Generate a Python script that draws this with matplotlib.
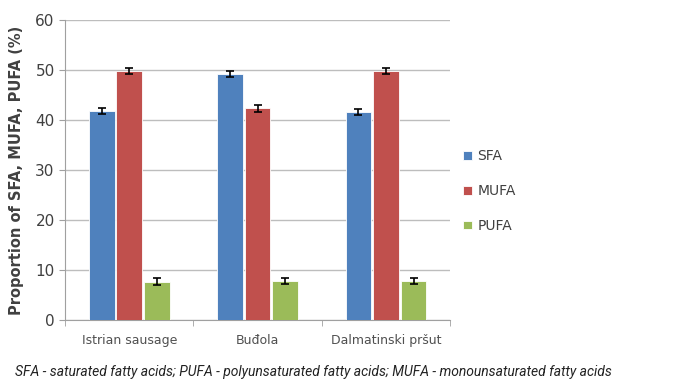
import numpy as np
import matplotlib
matplotlib.use("Agg")
import matplotlib.pyplot as plt

# Data
products = ["Istrian sausage", "Buđola", "Dalmatinski pršut"]
sfa = [41.7, 49.2, 41.6]
mufa = [49.7, 42.3, 49.7]
pufa = [7.7, 7.8, 7.9]
sfa_err = [0.6, 0.6, 0.6]
mufa_err = [0.6, 0.7, 0.6]
pufa_err = [0.7, 0.6, 0.6]
series_names = ["SFA", "MUFA", "PUFA"]
colors = ["#4F81BD", "#C0504D", "#9BBB59"]
caption = "SFA - saturated fatty acids; PUFA - polyunsaturated fatty acids; MUFA - monounsaturated fatty acids"

fig = plt.figure(figsize=(6.78, 3.9), dpi=100)
ax = fig.add_axes([0.096, 0.179, 0.568, 0.77])

x = np.arange(len(products))
width = 0.2
series = [(sfa, sfa_err), (mufa, mufa_err), (pufa, pufa_err)]
for i, (vals, errs) in enumerate(series):
    ax.bar(x + (i - 1) * 0.215, vals, width, yerr=errs, color=colors[i],
           edgecolor="white", linewidth=0.6, label=series_names[i],
           error_kw=dict(ecolor="black", elinewidth=1.2, capsize=3, capthick=1.2),
           zorder=3)

ax.set_xlim(-0.5, 2.5)
ax.set_ylim(0, 60)
ax.set_yticks(range(0, 61, 10))
ax.yaxis.grid(True, color="#BDBDBD", linewidth=1, zorder=0)
ax.set_axisbelow(True)

for s in ["top", "right"]:
    ax.spines[s].set_visible(False)
ax.spines["left"].set_color("#A0A0A0")
ax.spines["bottom"].set_color("#A0A0A0")

ax.set_xticks(x)
ax.set_xticklabels(products, fontsize=9, color="#505050")
ax.tick_params(axis="x", length=0, pad=10)
ax.set_xticks([-0.5, 0.5, 1.5, 2.5], minor=True)
ax.tick_params(axis="x", which="minor", length=4, color="#A0A0A0")
ax.tick_params(axis="y", labelsize=11, colors="#404040", length=4, color="#A0A0A0")

ax.set_ylabel("Proportion of SFA, MUFA, PUFA (%)", fontsize=10.5, fontweight="bold",
              color="#404040", labelpad=8)

fig.legend(loc="center left", bbox_to_anchor=(0.665, 0.51), frameon=False,
           fontsize=10, handlelength=0.6, handleheight=0.6, labelspacing=1.5,
           handletextpad=0.4, labelcolor="#404040")

fig.text(0.462, 0.045, caption, ha="center", va="center", fontsize=10,
         style="italic", family=["Roboto", "DejaVu Sans"], color="#222222")

fig.savefig("out.png", dpi=100)
